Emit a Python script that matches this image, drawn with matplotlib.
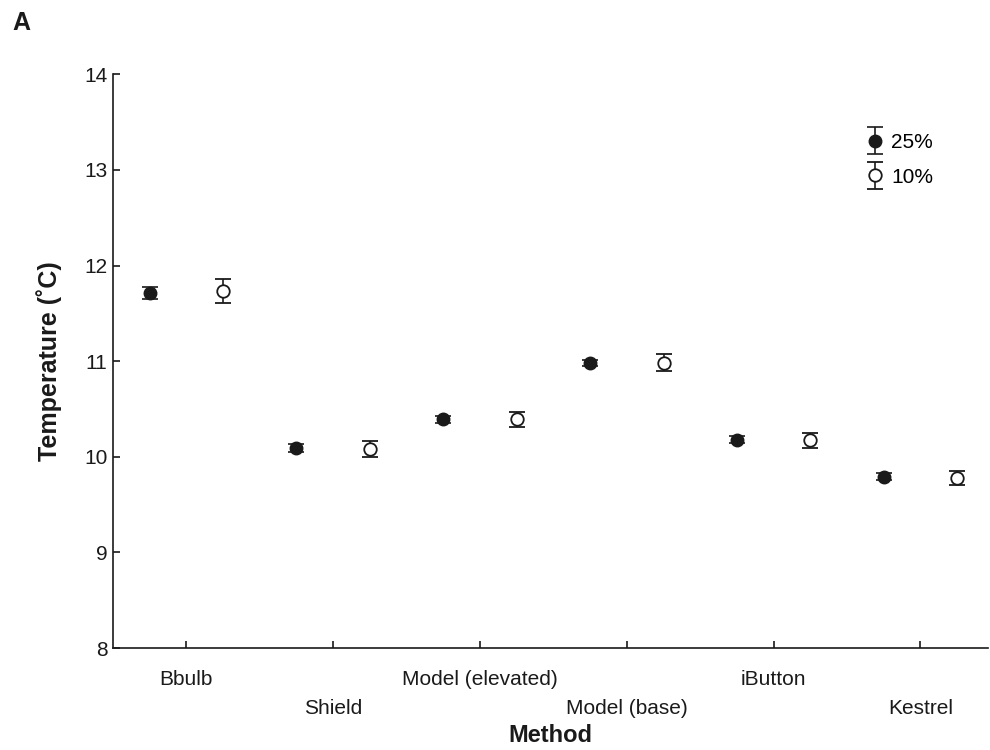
import matplotlib.pyplot as plt
import numpy as np
from matplotlib.container import ErrorbarContainer
from matplotlib.legend_handler import HandlerErrorbar

plt.rcParams['font.family'] = ['Liberation Sans', 'DejaVu Sans']

methods = ['Bbulb', 'Shield', 'Model (elevated)', 'Model (base)', 'iButton', 'Kestrel']
mean_25 = [11.71, 10.09, 10.39, 10.98, 10.18, 9.79]
err_25 = [0.06, 0.04, 0.035, 0.035, 0.035, 0.035]
mean_10 = [11.73, 10.08, 10.39, 10.985, 10.17, 9.78]
err_10 = [0.125, 0.085, 0.08, 0.085, 0.075, 0.075]

ink = '#1a1a1a'

fig = plt.figure(figsize=(9.9, 7.5), dpi=100)
ax = fig.add_axes([0.114, 0.136, 0.884, 0.765])

x = np.arange(len(methods))

ax.errorbar(x - 0.25, mean_25, yerr=err_25, fmt='o', color=ink,
            markerfacecolor=ink, markeredgecolor=ink, markersize=9,
            elinewidth=1.2, capsize=6, capthick=1.2, label='25%')
ax.errorbar(x + 0.25, mean_10, yerr=err_10, fmt='o', color=ink,
            markerfacecolor='white', markeredgecolor=ink, markeredgewidth=1.3,
            markersize=9, elinewidth=1.2, capsize=6, capthick=1.2, label='10%')

ax.set_xlim(-0.5, 5.46)
ax.set_ylim(8, 14)
ax.set_yticks([8, 9, 10, 11, 12, 13, 14])
ax.set_xticks(x)
ax.set_xticklabels([m if i % 2 == 0 else '\n' + m for i, m in enumerate(methods)],
                   linespacing=1.72)

for side in ['top', 'right']:
    ax.spines[side].set_visible(False)
for side in ['left', 'bottom']:
    ax.spines[side].set_color(ink)
    ax.spines[side].set_linewidth(1.2)

ax.tick_params(axis='both', direction='in', length=5, width=1.2,
               colors=ink, labelsize=15, labelcolor=ink)
ax.tick_params(axis='x', pad=15.5)
ax.tick_params(axis='y', pad=4)

ax.set_xlabel('Method', fontsize=17, fontweight='bold', color=ink, labelpad=4)
ax.set_ylabel('Temperature (˚C)', fontsize=18, fontweight='bold', color=ink, labelpad=16)

ax.legend(loc='upper right', bbox_to_anchor=(0.959, 0.93), frameon=False,
          fontsize=15, handlelength=1.0, handletextpad=0.3, labelspacing=0.75,
          handler_map={ErrorbarContainer: HandlerErrorbar(yerr_size=0.65)})

fig.text(0.012, 0.97, 'A', fontsize=18, fontweight='bold', color=ink, va='center')

fig.savefig('out.png', dpi=100)
